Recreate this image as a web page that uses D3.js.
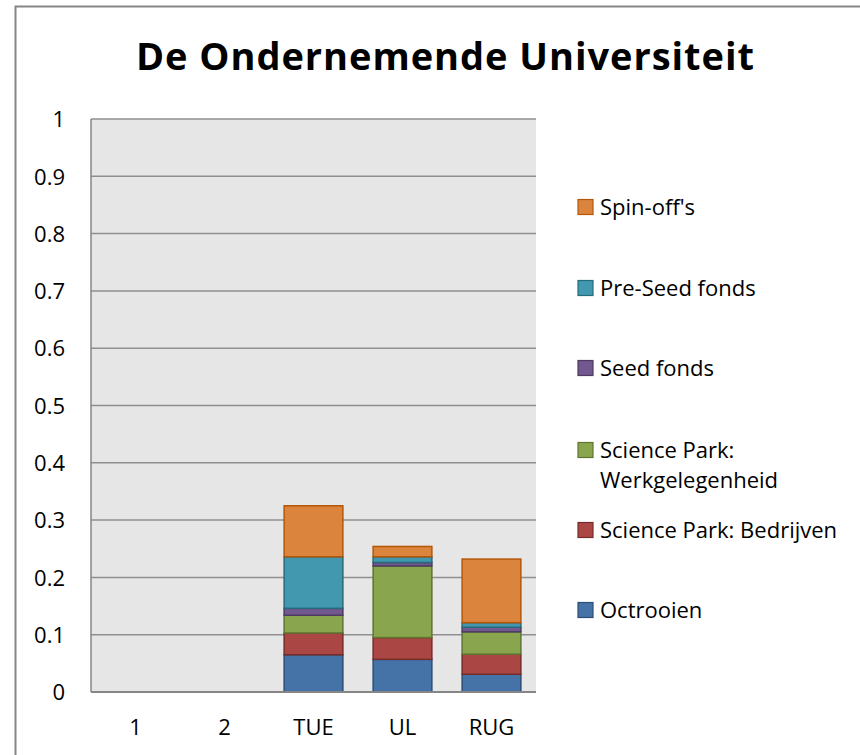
<!DOCTYPE html>
<html>
<head>
<meta charset="utf-8">
<script src="https://cdn.jsdelivr.net/npm/d3@7"></script>
<style>
  body { margin: 0; background: #fff; }
  text { font-family: "Open Sans", "Noto Sans", sans-serif; fill: #000; }
</style>
</head>
<body>
<svg id="chart" width="860" height="755"></svg>
<script>
// categories and series, stacked bottom to top
const categories = ["1", "2", "TUE", "UL", "RUG"];
const seriesNames = ["Octrooien", "Science Park: Bedrijven", "Science Park: Werkgelegenheid",
                     "Seed fonds", "Pre-Seed fonds", "Spin-off's"];
const octrooien       = [0, 0, 0.065, 0.057, 0.031];
const spBedrijven     = [0, 0, 0.038, 0.038, 0.035];
const spWerk          = [0, 0, 0.031, 0.125, 0.039];
const seedFonds       = [0, 0, 0.012, 0.006, 0.008];
const preSeedFonds    = [0, 0, 0.090, 0.010, 0.008];
const spinOffs        = [0, 0, 0.089, 0.018, 0.111];
const yTicks = [0, 0.1, 0.2, 0.3, 0.4, 0.5, 0.6, 0.7, 0.8, 0.9, 1];

const fills   = ["#4572a7", "#aa4643", "#89a54e", "#71588f", "#4198af", "#db843d"];
const strokes = ["#2c4d75", "#772c2a", "#5f7530", "#4d3b62", "#276a7c", "#b65708"];

const series = [octrooien, spBedrijven, spWerk, seedFonds, preSeedFonds, spinOffs];
const table = categories.map((c, i) => {
  const row = { cat: c };
  seriesNames.forEach((s, j) => row[s] = series[j][i]);
  return row;
});

const svg = d3.select("#chart");
const m = { left: 91, top: 119, right: 536, bottom: 692 };

// outer chart border
svg.append("rect")
  .attr("x", 15.5).attr("y", 6.5)
  .attr("width", 900).attr("height", 900)
  .attr("fill", "none").attr("stroke", "#868686").attr("stroke-width", 2);

svg.append("text")
  .attr("x", 445).attr("y", 70)
  .attr("text-anchor", "middle")
  .attr("textLength", 618).attr("lengthAdjust", "spacing")
  .style("font-size", "38px").style("font-weight", "bold")
  .text("De Ondernemende Universiteit");

const x = d3.scaleBand().domain(categories).range([m.left, m.right]).paddingInner(0.34).paddingOuter(0.17);
const y = d3.scaleLinear().domain([0, 1]).range([m.bottom, m.top]);

svg.append("rect")
  .attr("x", m.left).attr("y", m.top)
  .attr("width", m.right - m.left).attr("height", m.bottom - m.top)
  .attr("fill", "#e6e6e6");

// gridlines
svg.append("g").selectAll("line")
  .data(yTicks.filter(d => d > 0))
  .join("line")
  .attr("x1", m.left).attr("x2", m.right)
  .attr("y1", d => y(d)).attr("y2", d => y(d))
  .attr("stroke", "#8f8f8f").attr("stroke-width", 1.5);

const yAxis = svg.append("g")
  .attr("transform", `translate(${m.left},0)`)
  .call(d3.axisLeft(y).tickValues(yTicks).tickSize(0).tickPadding(26).tickFormat(d => d3.format("")(d)));
yAxis.select(".domain").remove();
yAxis.selectAll("text").style("font-size", "22px").attr("dy", "0.35em");

const stack = d3.stack().keys(seriesNames);
const layers = stack(table);

svg.append("g").selectAll("g")
  .data(layers)
  .join("g")
  .attr("fill", (d, i) => fills[i])
  .attr("stroke", (d, i) => strokes[i])
  .attr("stroke-width", 1.5)
  .selectAll("rect")
  .data(d => d.filter(p => p[1] - p[0] > 0))
  .join("rect")
  .attr("x", d => x(d.data.cat))
  .attr("width", x.bandwidth())
  .attr("y", d => y(d[1]))
  .attr("height", d => y(d[0]) - y(d[1]));

// axis lines
svg.append("line")
  .attr("x1", m.left).attr("x2", m.left).attr("y1", m.top).attr("y2", m.bottom)
  .attr("stroke", "#868686").attr("stroke-width", 1.5);

const xAxis = svg.append("g")
  .attr("transform", `translate(0,${m.bottom})`)
  .call(d3.axisBottom(x).tickSize(0));
xAxis.select(".domain").attr("stroke", "#868686").attr("stroke-width", 2)
  .attr("d", `M${m.left},0H${m.right}`);
xAxis.selectAll("text").style("font-size", "22px").attr("y", 43).attr("dy", "0");

// legend, top to bottom reversed order
const legendItems = [
  { i: 5, lines: ["Spin-off's"], y: 207 },
  { i: 4, lines: ["Pre-Seed fonds"], y: 288 },
  { i: 3, lines: ["Seed fonds"], y: 368 },
  { i: 2, lines: ["Science Park:", "Werkgelegenheid"], y: 450 },
  { i: 1, lines: ["Science Park: Bedrijven"], y: 530 },
  { i: 0, lines: ["Octrooien"], y: 610 }
];
const lg = svg.append("g").selectAll("g").data(legendItems).join("g")
  .attr("transform", d => `translate(578,${d.y})`);
lg.append("rect")
  .attr("x", 0).attr("y", -7.5).attr("width", 15).attr("height", 15)
  .attr("fill", d => fills[d.i]).attr("stroke", d => strokes[d.i]).attr("stroke-width", 1.2);
lg.append("text")
  .attr("x", 22)
  .style("font-size", "22px")
  .selectAll("tspan")
  .data(d => d.lines)
  .join("tspan")
  .attr("x", 22)
  .attr("y", (d, k) => k * 30)
  .attr("dy", "0.35em")
  .text(d => d);
</script>
</body>
</html>
